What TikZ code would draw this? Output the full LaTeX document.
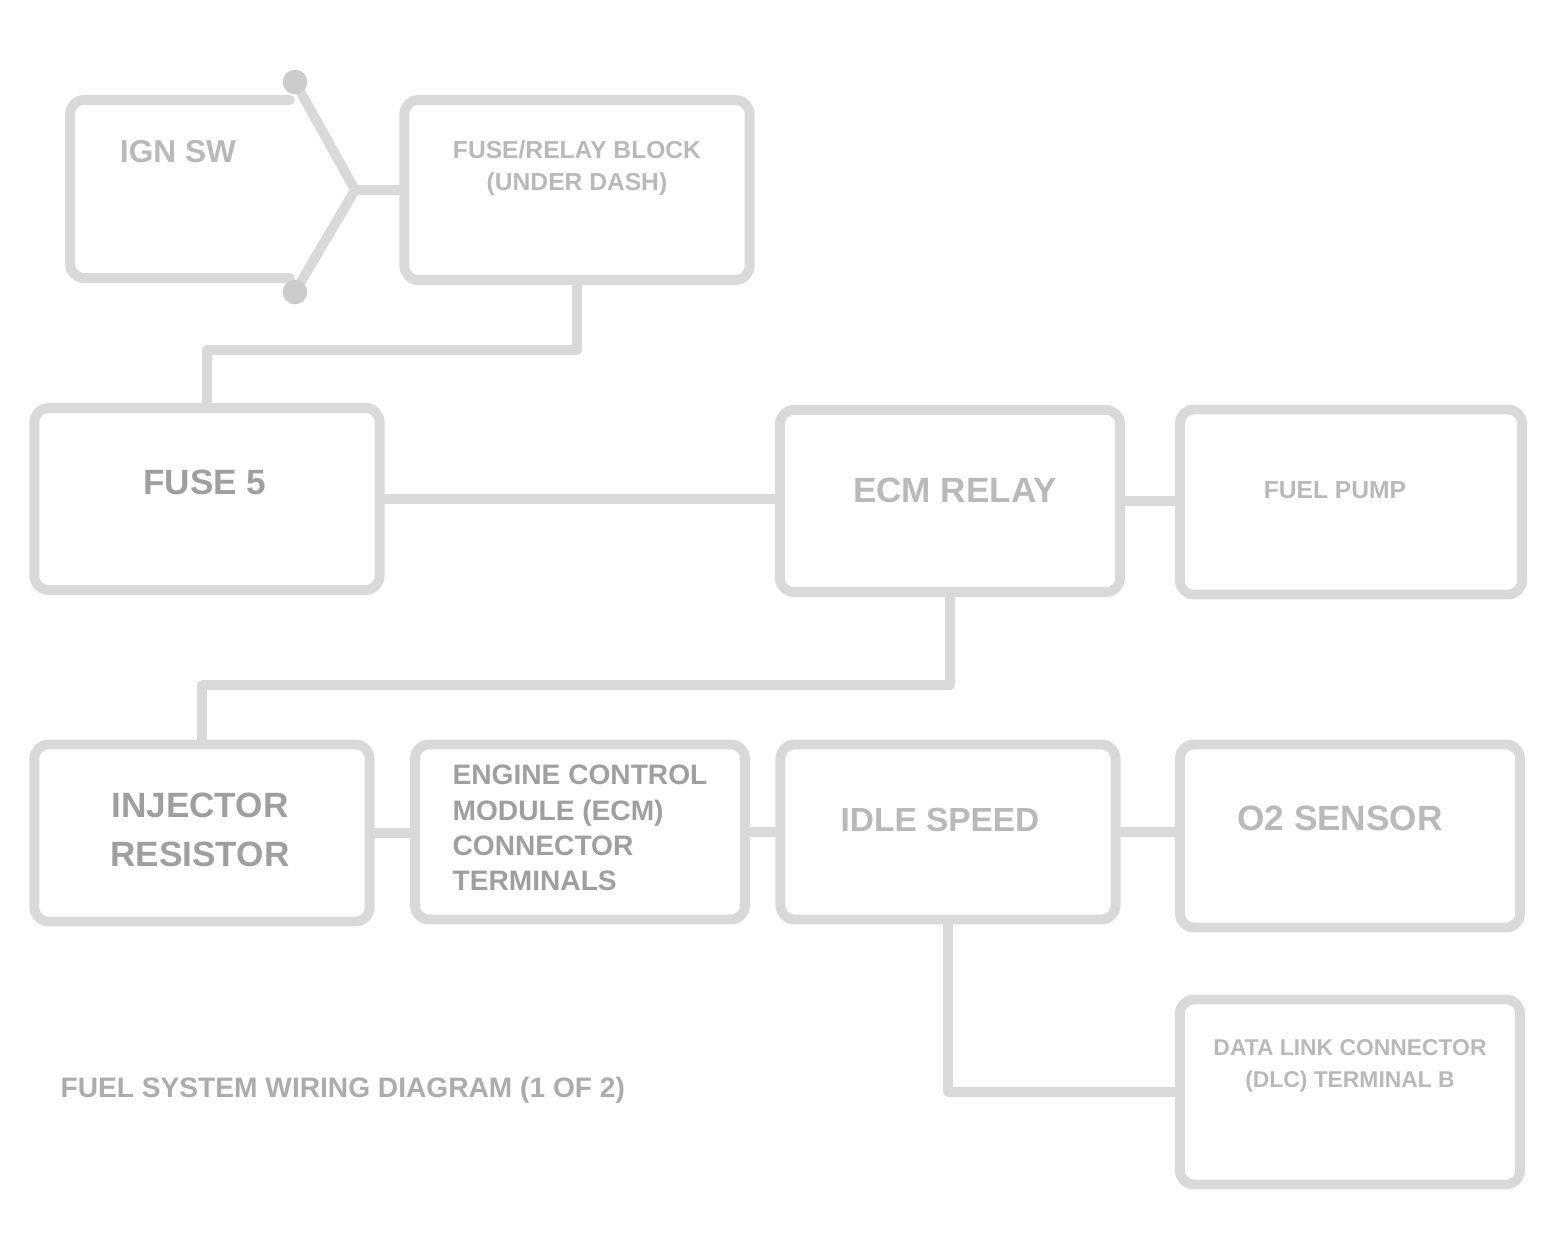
\documentclass[tikz,border=0pt]{standalone}
\usepackage{fontspec}
\setmainfont{Liberation Sans}

\tikzset{
  wire/.style={draw=gray!30, line width=2.8pt, line cap=round, line join=round},
  box/.style={wire, rounded corners=4pt, inner sep=0pt},
  txt/.style={font=\bfseries, text=gray!55, align=center, inner sep=0pt},
  dark/.style={txt, text=gray!75}
}

\begin{document}
\begin{tikzpicture}[x=0.01cm,y=-0.01cm]
  \useasboundingbox (0,0) rectangle (1559,1257);

  % boxes
  \begin{scope}[every node/.style={box}]
    \node[minimum width=3.45cm, minimum height=1.80cm] (fuseblk) at (577,190) {};
    \node[minimum width=3.45cm, minimum height=1.82cm] (fuse)    at (207,499) {};
    \node[minimum width=3.40cm, minimum height=1.82cm] (ecmrly)  at (950,501) {};
    \node[minimum width=3.42cm, minimum height=1.85cm] (pump)    at (1351,502) {};
    \node[minimum width=3.35cm, minimum height=1.77cm] (injres)  at (202,833) {};
    \node[minimum width=3.30cm, minimum height=1.75cm] (ecm)     at (580,832) {};
    \node[minimum width=3.35cm, minimum height=1.75cm] (iac)     at (948,832) {};
    \node[minimum width=3.40cm, minimum height=1.83cm] (otwo)    at (1350,836) {};
    \node[minimum width=3.40cm, minimum height=1.85cm] (dlc)     at (1350,1092) {};
  \end{scope}

  % switch
  \draw[wire, rounded corners=4pt] (290,100) -- (70,100) -- (70,278) -- (290,278);
  \coordinate (swtop) at (295,82);
  \coordinate (swjoin) at (355,190);
  \coordinate (swbot) at (295,292);
  \draw[wire] (swtop) -- (swjoin) -- (swbot);
  \fill[gray!40] (swtop) circle (3.5pt) (swbot) circle (3.5pt);

  % texts
  \node[txt, font=\bfseries\fontsize{9}{10}\selectfont] (swtxt) at (178,152) {IGN SW};
  \node[txt, font=\bfseries\fontsize{7}{9}\selectfont] (fuseblktxt) at (577,168) {FUSE/RELAY BLOCK\\(UNDER DASH)};
  \node[dark, font=\bfseries\fontsize{10}{11}\selectfont] (fusetxt) at (205,482) {FUSE 5};
  \node[txt, font=\bfseries\fontsize{10}{11}\selectfont] (ecmrlytxt) at (955,490) {ECM RELAY};
  \node[txt, font=\bfseries\fontsize{7}{8}\selectfont] (pumptxt) at (1335,490) {FUEL PUMP};
  \node[dark, font=\bfseries\fontsize{10}{14}\selectfont] (injrestxt) at (200,830) {INJECTOR\\RESISTOR};
  \node[dark, font=\bfseries\fontsize{8}{10}\selectfont, align=left] (ecmtxt) at (580,828) {ENGINE CONTROL\\MODULE (ECM)\\CONNECTOR\\TERMINALS};
  \node[txt, font=\bfseries\fontsize{9.5}{11}\selectfont] (iactxt) at (940,820) {IDLE SPEED};
  \node[txt, font=\bfseries\fontsize{10}{11}\selectfont] (otwotxt) at (1340,818) {O2 SENSOR};
  \node[txt, font=\bfseries\fontsize{6.5}{9}\selectfont] (dlctxt) at (1350,1066) {DATA LINK CONNECTOR\\(DLC) TERMINAL B};
  \node[txt, anchor=west, text=gray!65, font=\bfseries\fontsize{8}{9}\selectfont] (caption) at (60,1090) {FUEL SYSTEM WIRING DIAGRAM (1 OF 2)};

  % wires
  \begin{scope}[every edge/.style={wire}]
    \path (swjoin) edge (fuseblk.west);
    \path (fuse.east) edge (fuse.east -| ecmrly.west);
    \path (ecmrly.east) edge (ecmrly.east -| pump.west);
    \path (injres.east) edge (injres.east -| ecm.west);
    \path (ecm.east) edge (ecm.east -| iac.west);
    \path (iac.east) edge (iac.east -| otwo.west);
  \end{scope}
  \draw[wire] (fuseblk.south) -- ++(0,65) -| (fuse.north);
  \draw[wire] (ecmrly.south) -- ++(0,88) -| (injres.north);
  \draw[wire] (iac.south) |- (dlc.west);

\end{tikzpicture}
\end{document}
